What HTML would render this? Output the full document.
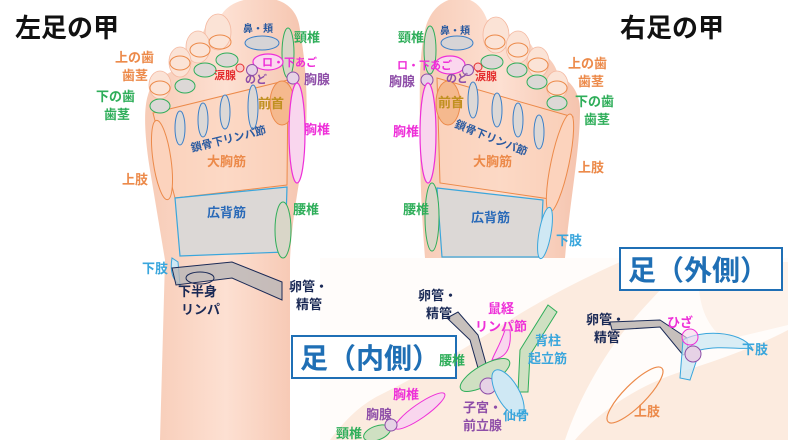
<!DOCTYPE html>
<html><head><meta charset="utf-8"><style>
html,body{margin:0;padding:0;background:#fff}
svg{display:block}
text{font-family:"Liberation Sans","Noto Sans CJK JP",sans-serif;font-weight:bold}
</style></head><body>
<svg width="788" height="440" viewBox="0 0 788 440" xmlns="http://www.w3.org/2000/svg">
<defs>
<linearGradient id="sk" x1="0" y1="0" x2="1" y2="0">
<stop offset="0" stop-color="#f7cbb6"/><stop offset="0.5" stop-color="#fde0d2"/><stop offset="1" stop-color="#f5c4ae"/>
</linearGradient>
</defs>
<!-- bottom side-view panel -->
<rect x="320" y="258" width="468" height="182" fill="#fffcfa"/>
<path d="M330,440 C345,420 360,405 380,395 C430,370 470,345 510,320 C545,298 580,280 620,262 L690,260 C660,290 630,320 610,350 C590,380 575,410 565,440 Z" fill="#fcebdf"/>
<path d="M575,440 C600,410 640,385 680,372 C720,360 760,345 788,330 L788,440 Z" fill="#fcebdf"/>
<path d="M700,262 C695,300 705,325 725,340 L788,325 L788,262 Z" fill="#fdf2ea"/>

<!-- LEFT FOOT -->
<path d="M160,440 L165,260 C160,230 155,200 150,170 C145,140 143,110 148,95 C152,80 165,75 175,70 C180,55 190,45 200,40 C205,25 212,15 222,14 C228,5 240,-2 262,-2 C285,-2 298,10 300,30 C305,60 308,90 306,130 C303,170 292,210 290,260 L290,440 Z" fill="url(#sk)"/>
<g fill="#fbe3d6" stroke="#f4b8a0" stroke-width="0.8">
<ellipse cx="218" cy="32" rx="13" ry="18"/><ellipse cx="198" cy="47" rx="12" ry="16"/><ellipse cx="180" cy="62" rx="11" ry="15"/><ellipse cx="160" cy="85" rx="11" ry="14"/>
</g>
<polygon points="153,113 288,80 287,185 175,198" fill="#fcd3bd" fill-opacity="0.6" stroke="#ec8a4a" stroke-width="1"/>
<polygon points="175,198 287,187 285,252 180,256" fill="#dcd8d6" stroke="#3aa6dc" stroke-width="1.2"/>
<g fill="#dcd8d6" stroke="#ec8a4a" stroke-width="1"><ellipse cx="220" cy="42" rx="11" ry="7" fill="none"/><ellipse cx="200" cy="50" rx="10" ry="7" fill="none"/><ellipse cx="180" cy="63" rx="10" ry="7" fill="none"/><ellipse cx="160" cy="88" rx="10" ry="7" fill="none"/></g>
<g fill="#dcd8d6" stroke="#2fae5a" stroke-width="1"><ellipse cx="227" cy="60" rx="11" ry="7"/><ellipse cx="205" cy="70" rx="11" ry="7"/><ellipse cx="185" cy="86" rx="10" ry="7"/><ellipse cx="160" cy="106" rx="10" ry="7"/></g>
<ellipse cx="262" cy="43" rx="17" ry="7" fill="#d6d4d6" stroke="#3a7fc8" stroke-width="1"/>
<ellipse cx="288" cy="53" rx="6" ry="25" fill="#d9d6c8" stroke="#2fae5a" stroke-width="1"/>
<ellipse cx="268" cy="62" rx="15" ry="8" fill="#fbd7ee" stroke="#ee2fd8" stroke-width="1.2"/>
<circle cx="240" cy="68" r="4" fill="#f9c8c8" stroke="#e43030"/>
<circle cx="252" cy="70" r="5.5" fill="#e6d2e6" stroke="#8e4ea8"/>
<circle cx="293" cy="78" r="6" fill="#e6d2e6" stroke="#8e4ea8"/>
<ellipse cx="282" cy="103" rx="12" ry="22" fill="#f5b98e" stroke="#ec8a4a"/>
<ellipse cx="297" cy="133" rx="8" ry="50" fill="#f9d6ee" stroke="#ee2fd8" stroke-width="1.2"/>
<g fill="#dcd8d6" stroke="#3a7fc8" stroke-width="1"><ellipse cx="180" cy="128" rx="5" ry="17"/><ellipse cx="203" cy="120" rx="5" ry="17"/><ellipse cx="225" cy="112" rx="5" ry="17"/><ellipse cx="253" cy="107" rx="5" ry="22"/></g>
<ellipse cx="162" cy="160" rx="9" ry="40" transform="rotate(-8 162 160)" fill="#fcd3bd" stroke="#ec8a4a"/>
<ellipse cx="283" cy="230" rx="8" ry="28" fill="#d9d6c8" stroke="#2fae5a"/>
<path d="M172,258 C170,270 172,280 180,285 L178,262 Z" fill="#cfe8f4" stroke="#3aa6dc"/>
<polygon points="172,268 232,262 282,282 282,300 232,278 176,285" fill="#b9b6b8" fill-opacity="0.8" stroke="#1b2a56" stroke-width="1"/>
<ellipse cx="200" cy="278" rx="14" ry="6" fill="none" stroke="#1b2a56"/>

<!-- RIGHT FOOT -->
<path d="M425,258 C422,220 420,180 420,140 C420,100 418,60 425,30 C430,8 445,-2 460,-2 C475,-2 484,10 487,20 C495,18 505,25 510,35 C520,32 530,40 535,52 C545,52 555,62 558,75 C570,80 580,92 580,110 C580,150 570,200 565,258 Z" fill="url(#sk)"/>
<g fill="#fbe3d6" stroke="#f4b8a0" stroke-width="0.8"><ellipse cx="496" cy="35" rx="13" ry="18"/><ellipse cx="518" cy="47" rx="12" ry="16"/><ellipse cx="538" cy="62" rx="11" ry="15"/><ellipse cx="557" cy="85" rx="11" ry="14"/></g>
<polygon points="437,78 573,117 557,200 440,183" fill="#fcd3bd" fill-opacity="0.6" stroke="#ec8a4a"/>
<polygon points="437,188 543,200 540,257 442,257" fill="#dcd8d6" stroke="#3aa6dc" stroke-width="1.2"/>
<g fill="none" stroke="#ec8a4a"><ellipse cx="495" cy="42" rx="10" ry="7"/><ellipse cx="518" cy="50" rx="10" ry="7"/><ellipse cx="538" cy="65" rx="10" ry="7"/><ellipse cx="557" cy="88" rx="10" ry="7"/></g>
<g fill="#dcd8d6" stroke="#2fae5a"><ellipse cx="492" cy="62" rx="11" ry="7"/><ellipse cx="517" cy="70" rx="10" ry="7"/><ellipse cx="537" cy="82" rx="10" ry="7"/><ellipse cx="557" cy="103" rx="10" ry="7"/></g>
<ellipse cx="457" cy="43" rx="16" ry="7" fill="#d6d4d6" stroke="#3a7fc8"/>
<ellipse cx="430" cy="50" rx="6" ry="24" fill="#d9d6c8" stroke="#2fae5a"/>
<ellipse cx="450" cy="65" rx="15" ry="9" fill="#fbd7ee" stroke="#ee2fd8" stroke-width="1.2"/>
<circle cx="468" cy="70" r="5.5" fill="#e6d2e6" stroke="#8e4ea8"/>
<circle cx="478" cy="67" r="4" fill="#f9c8c8" stroke="#e43030"/>
<circle cx="427" cy="80" r="6" fill="#e6d2e6" stroke="#8e4ea8"/>
<ellipse cx="448" cy="103" rx="12" ry="22" fill="#f5b98e" stroke="#ec8a4a"/>
<ellipse cx="428" cy="133" rx="8" ry="50" fill="#f9d6ee" stroke="#ee2fd8" stroke-width="1.2"/>
<g fill="#dcd8d6" stroke="#3a7fc8"><ellipse cx="473" cy="100" rx="5" ry="18"/><ellipse cx="497" cy="110" rx="5" ry="17"/><ellipse cx="518" cy="120" rx="5" ry="17"/><ellipse cx="539" cy="132" rx="5" ry="17"/></g>
<ellipse cx="560" cy="163" rx="9" ry="50" transform="rotate(12 560 163)" fill="#fcd3bd" stroke="#ec8a4a"/>
<ellipse cx="432" cy="217" rx="7" ry="34" fill="#d9d6c8" stroke="#2fae5a"/>
<ellipse cx="545" cy="233" rx="6" ry="26" transform="rotate(10 545 233)" fill="#cfe8f4" stroke="#3aa6dc"/>

<!-- inner side shapes -->
<polygon points="447,318 458,312 478,335 490,378 482,382 470,340" fill="#c7c0bc" stroke="#1b2a56"/>
<path d="M548,305 L557,312 L530,355 L528,392 L518,392 L520,350 Z" fill="#cfe0c2" stroke="#2fae5a"/>
<path d="M505,330 C500,345 495,352 492,360 C505,358 512,350 510,330 Z" fill="#f9d6ee" stroke="#ee2fd8"/>
<ellipse cx="485" cy="375" rx="28" ry="10" transform="rotate(-30 485 375)" fill="#cfe0c2" stroke="#2fae5a"/>
<circle cx="488" cy="386" r="8" fill="#e6d2e6" stroke="#8e4ea8"/>
<ellipse cx="508" cy="393" rx="26" ry="11" transform="rotate(60 508 393)" fill="#cfe8f4" stroke="#3aa6dc"/>
<ellipse cx="420" cy="411" rx="30" ry="7" transform="rotate(-35 420 411)" fill="#f9d6ee" stroke="#ee2fd8"/>
<ellipse cx="377" cy="433" rx="14" ry="7" transform="rotate(-20 377 433)" fill="#cfe0c2" stroke="#2fae5a"/>
<circle cx="391" cy="425" r="6" fill="#e6d2e6" stroke="#8e4ea8"/>
<!-- outer side -->
<polygon points="610,322 612,330 660,327 683,355 688,352 687,338 660,320" fill="#c7c0bc" stroke="#1b2a56"/>
<path d="M683,340 C700,330 740,330 752,348 C740,350 720,345 700,350 L690,380 L680,378 Z" fill="#cfe8f4" fill-opacity="0.8" stroke="#3aa6dc"/>
<circle cx="690" cy="337" r="8" fill="#f9d6ee" fill-opacity="0.6" stroke="#ee2fd8"/>
<circle cx="693" cy="354" r="8" fill="#e6d2e6" stroke="#8e4ea8"/>
<ellipse cx="635" cy="395" rx="38" ry="11" transform="rotate(-45 635 395)" fill="none" stroke="#ec8a4a" stroke-width="1.2"/>

<!-- boxes -->
<rect x="620" y="248" width="162" height="42" fill="#fff" stroke="#1f6fb5" stroke-width="2"/>
<text x="628" y="280" font-size="28" fill="#1f6fb5">足（外側）</text>
<rect x="292" y="336" width="164" height="42" fill="#fff" stroke="#1f6fb5" stroke-width="2"/>
<text x="300" y="368" font-size="28" fill="#1f6fb5">足（内側）</text>

<!-- titles -->
<text x="15" y="37" font-size="26" fill="#111">左足の甲</text>
<text x="620" y="37" font-size="26" fill="#111">右足の甲</text>

<g font-size="13">
<text x="243" y="32" font-size="10" fill="#2a5aa0">鼻・頬</text>
<text x="294" y="42" fill="#2fae5a">頸椎</text>
<text x="115" y="62" fill="#ec8a4a">上の歯</text>
<text x="122" y="80" fill="#ec8a4a">歯茎</text>
<text x="96" y="101" fill="#2fae5a">下の歯</text>
<text x="104" y="119" fill="#2fae5a">歯茎</text>
<text x="214" y="79" font-size="11" fill="#e43030">涙腺</text>
<text x="245" y="83" font-size="11" fill="#8e4ea8">のど</text>
<text x="262" y="66" font-size="11" fill="#ee2fd8">ロ・下あご</text>
<text x="304" y="84" fill="#8e4ea8">胸腺</text>
<text x="258" y="108" fill="#c09020">前首</text>
<text x="304" y="134" fill="#ee2fd8">胸椎</text>
<text x="192" y="152" font-size="11" fill="#2a5aa0" transform="rotate(-14 192 152)">鎖骨下リンパ節</text>
<text x="207" y="166" fill="#ec8a4a">大胸筋</text>
<text x="122" y="184" fill="#ec8a4a">上肢</text>
<text x="207" y="217" fill="#2a6ab8">広背筋</text>
<text x="293" y="214" fill="#2fae5a">腰椎</text>
<text x="142" y="273" fill="#3aa6dc">下肢</text>
<text x="178" y="296" fill="#1b2a56">下半身</text>
<text x="181" y="314" fill="#1b2a56">リンパ</text>
<text x="289" y="291" fill="#1b2a56">卵管・</text>
<text x="296" y="309" fill="#1b2a56">精管</text>
<text x="440" y="34" font-size="10" fill="#2a5aa0">鼻・頬</text>
<text x="398" y="42" fill="#2fae5a">頸椎</text>
<text x="397" y="69" font-size="11" fill="#ee2fd8">ロ・下あご</text>
<text x="446" y="82" font-size="11" fill="#8e4ea8">のど</text>
<text x="475" y="80" font-size="11" fill="#e43030">涙腺</text>
<text x="389" y="86" fill="#8e4ea8">胸腺</text>
<text x="438" y="107" fill="#c09020">前首</text>
<text x="393" y="136" fill="#ee2fd8">胸椎</text>
<text x="454" y="127" font-size="11" fill="#2a5aa0" transform="rotate(22 454 127)">鎖骨下リンパ節</text>
<text x="473" y="166" fill="#ec8a4a">大胸筋</text>
<text x="568" y="68" fill="#ec8a4a">上の歯</text>
<text x="578" y="86" fill="#ec8a4a">歯茎</text>
<text x="575" y="106" fill="#2fae5a">下の歯</text>
<text x="584" y="124" fill="#2fae5a">歯茎</text>
<text x="578" y="172" fill="#ec8a4a">上肢</text>
<text x="403" y="214" fill="#2fae5a">腰椎</text>
<text x="471" y="222" fill="#2a6ab8">広背筋</text>
<text x="556" y="245" fill="#3aa6dc">下肢</text>
<text x="418" y="300" fill="#1b2a56">卵管・</text>
<text x="426" y="318" fill="#1b2a56">精管</text>
<text x="488" y="313" fill="#ee2fd8">鼠経</text>
<text x="475" y="331" fill="#ee2fd8">リンパ節</text>
<text x="535" y="345" fill="#3aa6dc">背柱</text>
<text x="528" y="363" fill="#3aa6dc">起立筋</text>
<text x="439" y="365" fill="#2fae5a">腰椎</text>
<text x="393" y="399" fill="#ee2fd8">胸椎</text>
<text x="366" y="419" fill="#8e4ea8">胸腺</text>
<text x="336" y="438" fill="#2fae5a">頸椎</text>
<text x="463" y="412" fill="#8e4ea8">子宮・</text>
<text x="463" y="430" fill="#8e4ea8">前立腺</text>
<text x="503" y="420" fill="#3aa6dc">仙骨</text>
<text x="586" y="324" fill="#1b2a56">卵管・</text>
<text x="594" y="342" fill="#1b2a56">精管</text>
<text x="667" y="327" fill="#ee2fd8">ひざ</text>
<text x="742" y="354" fill="#3aa6dc">下肢</text>
<text x="634" y="416" fill="#ec8a4a">上肢</text>
</g>
</svg>
</body></html>
